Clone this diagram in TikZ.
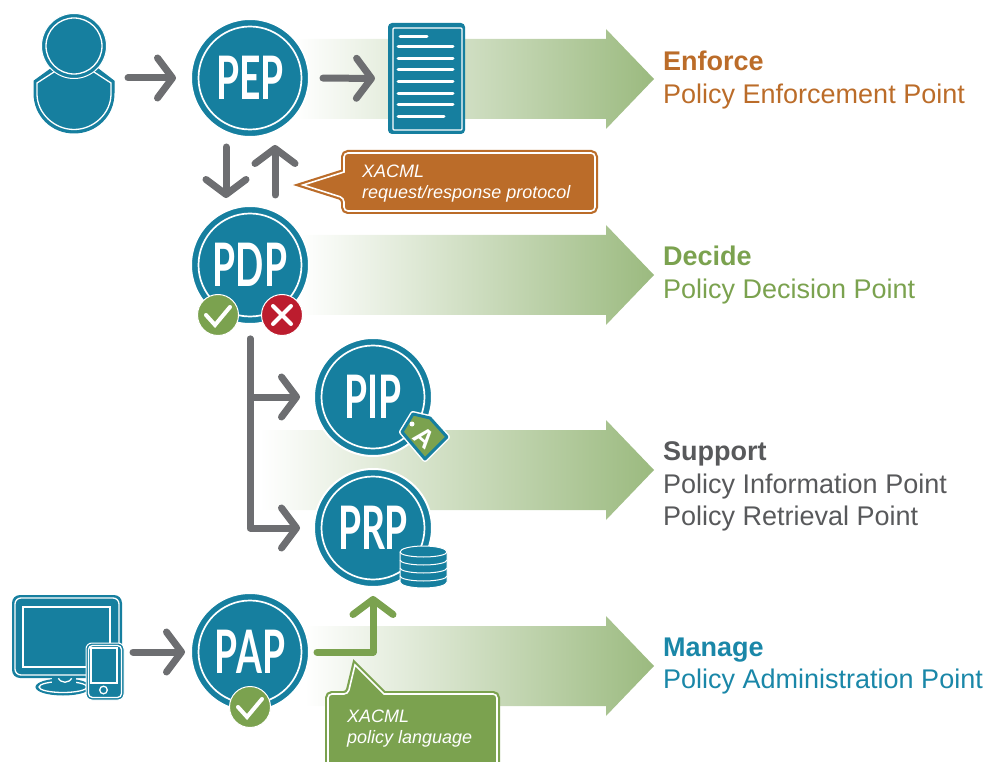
\documentclass[tikz,border=0pt]{standalone}
\usepackage{fontspec}
\usepackage{graphicx}
\setmainfont{Liberation Sans}
\newfontfamily\condfont{Lato}
\usetikzlibrary{arrows.meta,calc}
\definecolor{teal1}{HTML}{167F9F}
\definecolor{grey1}{HTML}{6D6E71}
\definecolor{orange1}{HTML}{BB6C29}
\definecolor{green1}{HTML}{7BA24F}
\definecolor{red1}{HTML}{BC1C2E}
\definecolor{bandend}{HTML}{9BBA7F}
\definecolor{greytxt}{HTML}{58595B}
\definecolor{tealtxt}{HTML}{1A87A8}
\newcommand{\cname}[2]{\scalebox{#1}[1]{\fontsize{60}{60}\selectfont\condfont\bfseries #2}}
\tikzset{
  tipbarb/.style={-{Straight Barb[length=15pt,width=40pt,line width=7pt,round]}},
  conn/.style={draw=grey1,line width=7pt,line cap=round,line join=round,tipbarb},
  connup/.style={conn,draw=green1},
  portal/.style={circle,fill=teal1,draw=white,line width=2pt,minimum size=118pt,inner sep=0pt,outer sep=0pt,text=white,
    path picture={\draw[white,line width=1.7pt] (path picture bounding box.center) circle (51.5pt);}},
  badge/.style={circle,draw=white,line width=1pt,minimum size=41pt,inner sep=0pt,outer sep=0pt},
  markline/.style={draw=white,line width=4pt,line cap=round,line join=miter},
  icon/.style={inner sep=0pt,outer sep=0pt},
  hair/.style={draw=white,line width=1.3pt},
  docline/.style={draw=white,line width=3pt,line cap=round},
  head/.style={anchor=base west,inner sep=0pt,font=\fontsize{27}{27}\selectfont\bfseries},
  sub/.style={anchor=base west,inner sep=0pt,font=\fontsize{27}{27}\selectfont},
  calltext/.style={anchor=base west,inner sep=0pt,text=white,font=\fontsize{18}{18}\selectfont\itshape},
  band/.style={left color=white,right color=bandend,draw=none},
}
\newcommand{\bandpath}[2]{%
  \shade[band] (#1,#2-40) -- (606,#2-40) -- (606,#2-50) -- (654,#2) -- (606,#2+50) -- (606,#2+40) -- (#1,#2+40) -- cycle;}
\begin{document}
\begin{tikzpicture}[x=1pt,y=-1pt]
\useasboundingbox (0,0) rectangle (986,762);
\clip (0,0) rectangle (986,762);
% bands
\bandpath{295}{79}
\bandpath{300}{275}
\bandpath{260}{470}
\bandpath{305}{666}
% portals
\node[portal] (pep) at (250,78) {\cname{0.62}{PEP}};
\node[portal] (pdp) at (250,265) {\cname{0.62}{PDP}};
\node[portal] (pip) at (373,397) {\cname{0.62}{PIP}};
\node[portal] (prp) at (373,528) {\cname{0.62}{PRP}};
\node[portal] (pap) at (250,652) {\cname{0.62}{PAP}};
% user icon
\node[icon,minimum width=82pt,minimum height=120pt] (user) at (74,73.5) {};
\fill[teal1,draw=teal1,line width=1pt,line join=round] (52,68) -- (34,81) -- (34,93) .. controls (34,116) and (52,133) .. (74,133) .. controls (96,133) and (114,116) .. (114,93) -- (114,81) -- (97,68) -- cycle;
\draw[hair,line join=round] (54,72) -- (37,83) -- (37,94) .. controls (37,113) and (54,129.500) .. (74,129.500) .. controls (94,129.500) and (111,113) .. (111,94) -- (111,83) -- (94,72);
\fill[teal1,draw=white,line width=1pt] (74,46) circle (32.500);
\draw[hair] (74,46) circle (28);
% document
\node[icon,fill=teal1,rounded corners=4pt,minimum width=77pt,minimum height=111pt] (doc) at (426.500,78.500) {};
\draw[hair,rounded corners=1pt] (393,28) rectangle (462,130);
\draw[docline] (400,37) -- (427,37);
\foreach \yy in {47,59,70,82,94,105} \draw[docline] (398,\yy) -- (453,\yy);
\draw[docline] (398,117) -- (444,117);
% connectors
\draw[conn,shorten <=13pt,shorten >=15pt] (user.east |- pep.west) -- (pep.west);
\draw[conn,shorten <=14pt,shorten >=13pt] (pep.east) -- (doc.west);
\draw[conn,shorten <=10pt,shorten >=8pt] ([xshift=-24pt]pep.south) -- ([xshift=-24pt]pdp.north);
\draw[conn,shorten <=11pt,shorten >=8pt] ([xshift=25pt]pdp.north) -- ([xshift=25pt]pep.south);
\draw[conn,shorten <=15pt,shorten >=14pt] (pdp.south) |- (pip.west);
\draw[conn,shorten <=15pt,shorten >=14pt] (pdp.south) |- (prp.west);
% PDP badges
\node[badge,fill=green1] (okpdp) at (218,315) {};
\draw[markline] (206,315) -- (215,325) -- (230,307);
\node[badge,fill=red1] (nopdp) at (282,315) {};
\draw[markline] (273,306) -- (291,324) (291,306) -- (273,324);
% tag
\node[icon,minimum width=46pt,minimum height=47pt] (tag) at (425,437) {};
\draw[draw=white,line width=6pt,line join=round] (402,432) -- (413,414) -- (430,418) -- (447,437) -- (425,459) -- cycle;
\draw[fill=green1,draw=teal1,line width=3pt,line join=round] (402,432) -- (413,414) -- (430,418) -- (447,437) -- (425,459) -- cycle;
\fill[white] (412,424) circle (2.500);
\node[text=white,rotate=-40,inner sep=0pt,font=\fontsize{26}{26}\selectfont\bfseries] (tagA) at (424,438) {A};
% database
\node[icon,minimum width=47pt,minimum height=42pt] (db) at (423.500,567) {};
\fill[teal1,draw=white,line width=1pt] (400,552) -- (400,582) arc[start angle=180,end angle=0,x radius=23.500,y radius=6] -- (447,552) arc[start angle=0,end angle=-180,x radius=23.500,y radius=6] -- cycle;
\foreach \yy in {552,560,568,576} {
  \draw[white,line width=1pt] (400,\yy) arc[start angle=180,end angle=0,x radius=23.500,y radius=5];
}
% devices
\node[icon,minimum width=112pt,minimum height=105pt] (dev) at (68,647.500) {};
\fill[teal1,draw=teal1,line width=1pt] (63,687) ellipse (27 and 8);
\draw[hair] (63,687) ellipse (24 and 5.500);
\fill[teal1] (52,672) rectangle (76,684);
\draw[hair] (58,677) .. controls (60,684) and (70,684) .. (72,677);
\fill[teal1,rounded corners=8pt] (12,595) rectangle (122,678);
\draw[hair,rounded corners=6pt] (15,598) rectangle (119,675);
\draw[hair] (23,607) rectangle (110,667);
\fill[teal1,draw=white,line width=1pt,rounded corners=6pt] (86,643) rectangle (124,700);
\draw[hair,rounded corners=4pt] (88.500,645.500) rectangle (121.500,697.500);
\draw[hair] (91,648) rectangle (117,683);
\draw[hair] (103.500,690) circle (3.800);
\draw[conn,shorten <=9pt,shorten >=6pt] (dev.east |- pap.west) -- (pap.west);
% PAP
\draw[connup,shorten <=8pt,shorten >=9pt] (pap.east) -| (prp.south);
\node[badge,fill=green1] (okpap) at (250,707) {};
\draw[markline] (238,707) -- (247,717) -- (262,699);
% orange callout
\coordinate (ctipA) at (303,185);
\draw[orange1,line width=6pt,miter limit=20,rounded corners=4pt] (344,153) -- (595,153) -- (595,211) -- (344,211) -- (344,198) [sharp corners] -- (ctipA) -- (344,172) [rounded corners=4pt] -- cycle;
\draw[white,fill=orange1,line width=1.6pt,miter limit=20,rounded corners=4pt] (344,153) -- (595,153) -- (595,211) -- (344,211) -- (344,198) [sharp corners] -- (ctipA) -- (344,172) [rounded corners=4pt] -- cycle;
\node[calltext] (c1a) at (362,178) {XACML};
\node[calltext] (c1b) at (362,199) {request/response protocol};
% green callout
\coordinate (ctipB) at (355,665);
\draw[green1,line width=6pt,miter limit=20,rounded corners=4pt] (328,775) -- (328,694) -- (348,694) [sharp corners] -- (ctipB) -- (384,694) [rounded corners=4pt] -- (497,694) -- (497,775) -- cycle;
\draw[white,fill=green1,line width=1.6pt,miter limit=20,rounded corners=4pt] (328,775) -- (328,694) -- (348,694) [sharp corners] -- (ctipB) -- (384,694) [rounded corners=4pt] -- (497,694) -- (497,775) -- cycle;
\node[calltext] (c2a) at (347,722) {XACML};
\node[calltext] (c2b) at (347,743) {policy language};
% labels
\node[head,text=orange1] (l1h) at (663,71) {Enforce};
\node[sub,text=orange1] (l1s) at (663,104) {Policy Enforcement Point};
\node[head,text=green1] (l2h) at (663,266) {Decide};
\node[sub,text=green1] (l2s) at (663,299) {Policy Decision Point};
\node[head,text=greytxt] (l3h) at (663,460) {Support};
\node[sub,text=greytxt] (l3s) at (663,493) {Policy Information Point};
\node[sub,text=greytxt] (l3t) at (663,525) {Policy Retrieval Point};
\node[head,text=tealtxt] (l4h) at (663,656) {Manage};
\node[sub,text=tealtxt] (l4s) at (663,688) {Policy Administration Point};
\end{tikzpicture}
\end{document}
